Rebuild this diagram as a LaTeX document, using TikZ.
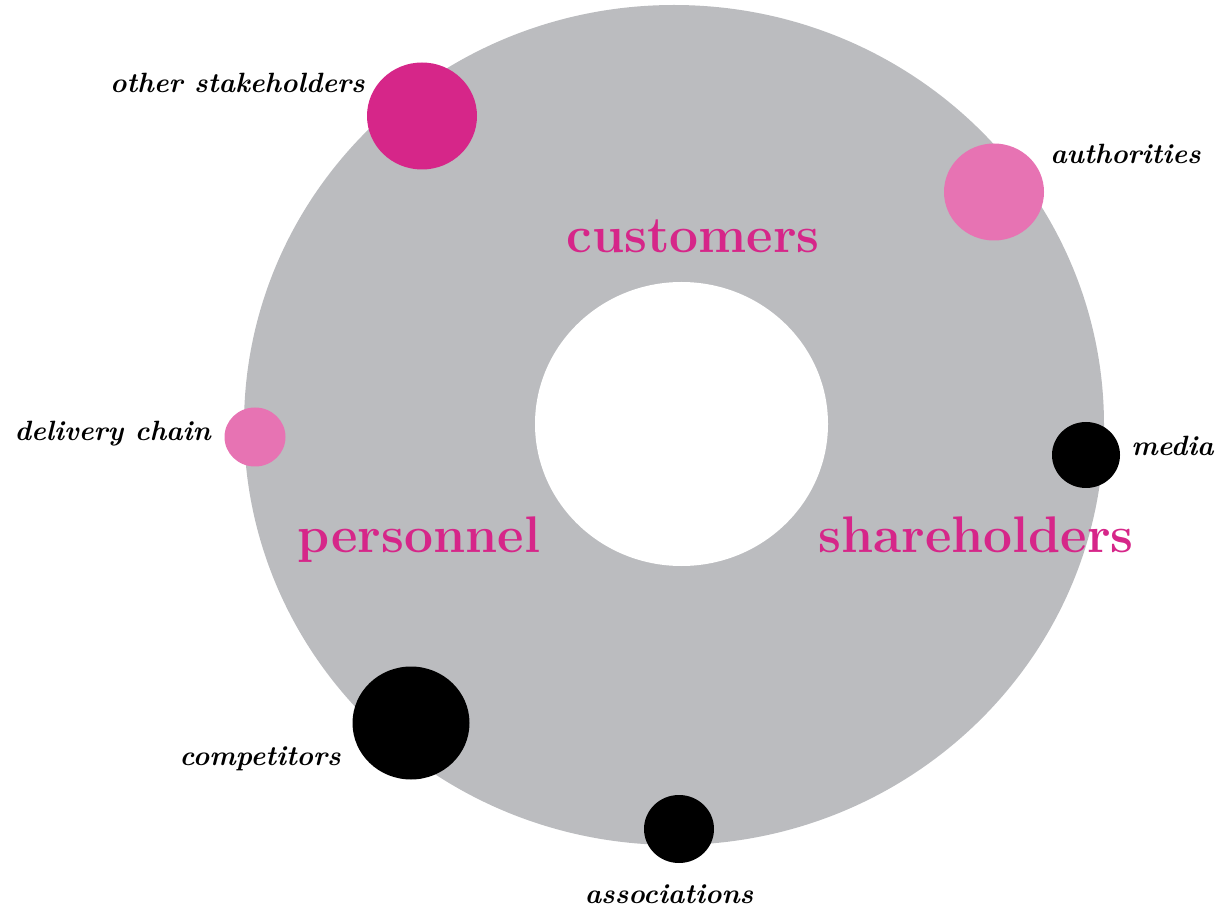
\documentclass[tikz,border=0pt]{standalone}
\definecolor{ringgrey}{HTML}{BBBCBF}
\definecolor{deepmagenta}{HTML}{D62689}
\definecolor{softpink}{HTML}{E773B3}
\begin{document}
\begin{tikzpicture}[x=0.75pt,y=-0.75pt,
  biglabel/.style={text=deepmagenta,font=\fontsize{38.6}{41}\selectfont\bfseries,inner sep=0pt},
  smalllabel/.style={text=black,font=\fontsize{20.9}{23}\selectfont\bfseries\itshape,inner sep=0pt}]
\useasboundingbox (0,0) rectangle (1217,912);
% grey ring
\fill[ringgrey] (674,425) ellipse [x radius=430,y radius=420];
\fill[white] (681.5,424) ellipse [x radius=146.5,y radius=142];
% stakeholder dots
\fill[deepmagenta] (422,116) ellipse [x radius=55,y radius=53.5];
\fill[softpink] (994,192) ellipse [x radius=50,y radius=48.5];
\fill[softpink] (255,437) ellipse [x radius=30.5,y radius=29.5];
\fill[black] (1086,455) ellipse [x radius=34,y radius=33];
\fill[black] (411,723) ellipse [x radius=58.5,y radius=56.5];
\fill[black] (679,829) ellipse [x radius=35,y radius=34];
% core groups
\node[biglabel,anchor=base] (cust) at (693,253) {customers};
\node[biglabel,anchor=base] (pers) at (419,552) {personnel};
\node[biglabel,anchor=base] (share) at (976,552) {shareholders};
% outer stakeholders
\node[smalllabel,anchor=base east] (other) at (365,93) {other stakeholders};
\node[smalllabel,anchor=base west] (auth) at (1050,164) {authorities};
\node[smalllabel,anchor=base east] (deliv) at (211,441) {delivery chain};
\node[smalllabel,anchor=base west] (media) at (1131,456) {media};
\node[smalllabel,anchor=base east] (comp) at (341,765) {competitors};
\node[smalllabel,anchor=base] (assoc) at (669,903) {associations};
\end{tikzpicture}
\end{document}
